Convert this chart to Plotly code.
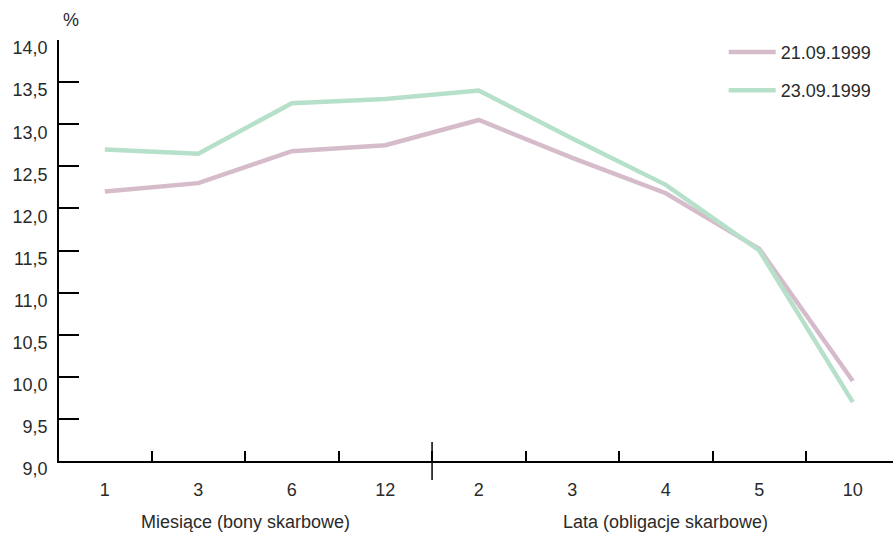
import plotly.graph_objects as go

# Yield curve of treasury securities: bills (months) and bonds (years)
maturities = ["1", "3", "6", "12", "2", "3", "4", "5", "10"]
yield_2109 = [12.2, 12.3, 12.68, 12.75, 13.05, 12.6, 12.18, 11.52, 9.95]
yield_2309 = [12.7, 12.65, 13.25, 13.3, 13.4, 12.83, 12.28, 11.5, 9.7]
series_names = ["21.09.1999", "23.09.1999"]
series_colors = ["#d6bccb", "#b6e0c9"]
group_labels = ["Miesiące (bony skarbowe)", "Lata (obligacje skarbowe)"]
y_ticks = [9.0, 9.5, 10.0, 10.5, 11.0, 11.5, 12.0, 12.5, 13.0, 13.5, 14.0]

xs = list(range(len(maturities)))
n_bills = 4  # first four maturities are in months

FONT = "Liberation Sans, Arial, sans-serif"
TXT = "#2a2a2a"
FS = 18

fig = go.Figure()
for name, vals, col in zip(series_names, [yield_2109, yield_2309], series_colors):
    fig.add_trace(go.Scatter(
        x=xs, y=vals, name=name, mode="lines",
        line=dict(color=col, width=4.5),
        legendgroup=name,
    ))

fig.update_layout(
    width=893, height=533,
    margin=dict(l=59, r=0, t=40, b=72),
    paper_bgcolor="white", plot_bgcolor="white",
    separators=", ",
    font=dict(family=FONT, size=FS, color=TXT),
    showlegend=True,
    legend=dict(
        x=0.797, y=1.015, xanchor="left", yanchor="top",
        font=dict(size=FS, color=TXT),
        itemwidth=47,
        tracegroupgap=12, traceorder="grouped",
        bgcolor="rgba(0,0,0,0)",
    ),
    xaxis=dict(
        range=[-0.49, 8.43],
        tickmode="array", tickvals=xs, ticktext=maturities,
        ticks="", showgrid=False, zeroline=False,
        showline=True, linecolor="black", linewidth=1.5,
        ticklabelstandoff=12,
        tickfont=dict(size=FS, color=TXT),
        minor=dict(
            tickmode="array",
            tickvals=[i + 0.5 for i in xs[:-1]],
            ticks="inside", ticklen=10, tickwidth=1.5, tickcolor="black",
            showgrid=False,
        ),
    ),
    yaxis=dict(
        range=[9.0, 14.0],
        tickmode="array", tickvals=y_ticks,
        tickformat=".1f",
        ticks="inside", ticklen=20, tickwidth=1.5, tickcolor="black",
        showgrid=False, zeroline=False,
        showline=True, linecolor="black", linewidth=1.5,
        ticklabelstandoff=6,
        ticklabelshift=8,
        tickfont=dict(size=FS, color=TXT),
    ),
)

# long divider between the months and the years groups
fig.add_shape(
    type="line", xref="x", yref="paper",
    x0=n_bills - 0.5, x1=n_bills - 0.5, y0=-0.045, y1=0.045,
    line=dict(color="black", width=1.5),
)

# group captions under the axis
fig.add_annotation(
    x=(0 + n_bills - 1) / 2, y=-0.145, xref="x", yref="paper",
    text=group_labels[0], showarrow=False, yanchor="middle",
    font=dict(size=FS, color=TXT),
)
fig.add_annotation(
    x=(n_bills + len(xs) - 1) / 2, y=-0.145, xref="x", yref="paper",
    text=group_labels[1], showarrow=False, yanchor="middle",
    font=dict(size=FS, color=TXT),
)

# unit label above the value axis
fig.add_annotation(
    x=0, y=1.0, xref="paper", yref="paper",
    xshift=12, yshift=20,
    text="%", showarrow=False, yanchor="middle", xanchor="center",
    font=dict(size=FS, color=TXT),
)

fig.write_html("out.html")
